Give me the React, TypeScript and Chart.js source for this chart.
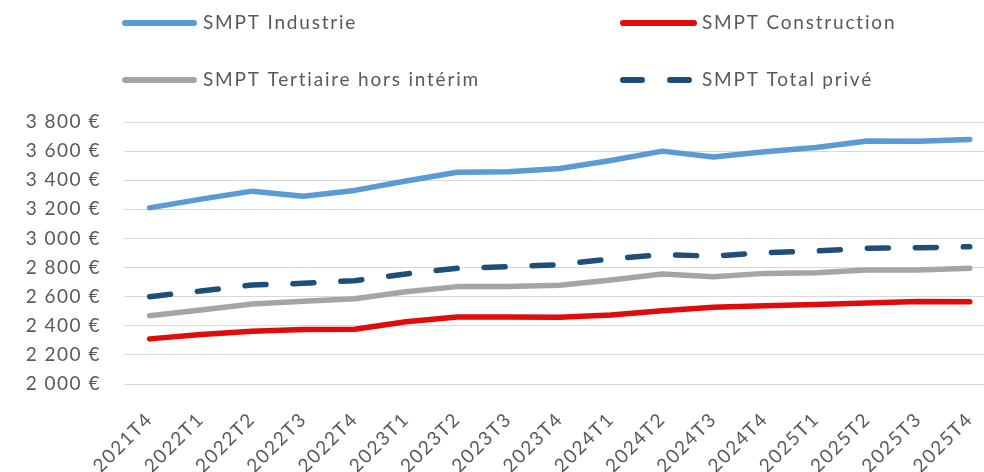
import React, { useEffect, useRef } from "react";
import { Chart, registerables } from "chart.js";

Chart.register(...registerables);

const categories = [
  "2021T4", "2022T1", "2022T2", "2022T3", "2022T4",
  "2023T1", "2023T2", "2023T3", "2023T4",
  "2024T1", "2024T2", "2024T3", "2024T4",
  "2025T1", "2025T2", "2025T3", "2025T4",
];

const industrie = [3210, 3270, 3325, 3290, 3330, 3395, 3455, 3458, 3480, 3535, 3600, 3560, 3595, 3625, 3670, 3668, 3680];
const construction = [2310, 2340, 2363, 2375, 2376, 2428, 2460, 2460, 2458, 2474, 2503, 2527, 2538, 2547, 2556, 2567, 2565];
const tertiaire = [2469, 2508, 2550, 2568, 2586, 2634, 2669, 2669, 2678, 2715, 2756, 2737, 2760, 2765, 2783, 2783, 2795];
const totalPrive = [2600, 2639, 2680, 2692, 2710, 2756, 2795, 2806, 2820, 2860, 2888, 2879, 2902, 2914, 2932, 2936, 2943];

const seriesNames = ["SMPT Industrie", "SMPT Construction", "SMPT Tertiaire hors intérim", "SMPT Total privé"];
const seriesColors = ["#5B9BD5", "#E00B0B", "#A5A5A5", "#1F4E79"];

const yMin = 2000;
const yMax = 3800;
const yStep = 200;

const formatEuro = (v: number) => {
  const s = String(Math.round(v));
  const withSpace = s.replace(/\B(?=(\d{3})+(?!\d))/g, " ");
  return withSpace + " €";
};

// legend layout: [lineStart, lineEnd, y, textX]
const legendPos = [
  [122, 197, 23, 203],
  [620, 697, 23, 702],
  [122, 197, 80, 203],
  [620, 697, 80, 702],
];

const spacingPlugin = {
  id: "letterSpacing",
  beforeDraw(chart: any) {
    try { (chart.ctx as any).letterSpacing = "1.5px"; } catch (e) {}
  },
};

const legendPlugin = {
  id: "customLegend",
  afterDraw(chart: any) {
    const ctx = chart.ctx;
    ctx.save();
    chart.data.datasets.forEach((ds: any, i: number) => {
      const [x1, x2, y, tx] = legendPos[i];
      ctx.beginPath();
      ctx.strokeStyle = ds.borderColor;
      ctx.lineWidth = 6;
      ctx.lineCap = "round";
      if (ds.borderDash && ds.borderDash.length) {
        ctx.setLineDash([19, 28]);
        ctx.moveTo(x1 + 3, y);
        ctx.lineTo(x2 - 6, y);
      } else {
        ctx.setLineDash([]);
        ctx.moveTo(x1 + 3, y);
        ctx.lineTo(x2 - 3, y);
      }
      ctx.stroke();
      ctx.setLineDash([]);
      ctx.fillStyle = "#595959";
      ctx.font = "19px Lato";
      try { (ctx as any).letterSpacing = "1.8px"; } catch (e) {}
      ctx.textBaseline = "middle";
      ctx.textAlign = "left";
      ctx.fillText(ds.label, tx, y);
    });
    ctx.restore();
  },
};

export default function App() {
  const canvasRef = useRef<HTMLCanvasElement | null>(null);

  useEffect(() => {
    if (!canvasRef.current) return;
    const datasets = [industrie, construction, tertiaire, totalPrive].map((d, i) => ({
      label: seriesNames[i],
      data: d,
      borderColor: seriesColors[i],
      backgroundColor: seriesColors[i],
      borderWidth: 5.5,
      borderCapStyle: "round" as const,
      borderJoinStyle: "round" as const,
      borderDash: i === 3 ? [21, 27] : [],
      pointRadius: 0,
      pointHoverRadius: 0,
      tension: 0,
      fill: false,
    }));
    const chart = new Chart(canvasRef.current, {
      type: "line",
      data: { labels: categories, datasets },
      options: {
        animation: false,
        responsive: true,
        maintainAspectRatio: false,
        layout: { padding: { top: 122, left: 0, right: 4, bottom: 0 } },
        plugins: {
          legend: { display: false },
          tooltip: { enabled: false },
        },
        scales: {
          x: {
            offset: true,
            grid: { display: false, drawTicks: false },
            border: { display: false },
            ticks: {
              color: "#595959",
              font: { family: "Lato", size: 19 },
              maxRotation: 45,
              minRotation: 45,
              autoSkip: false,
              padding: 24,
            },
            afterFit(scale: any) {
              scale.height = 88;
            },
          },
          y: {
            min: yMin,
            max: yMax,
            grid: { color: "#D9D9D9", lineWidth: 1, drawTicks: false },
            border: { display: false },
            ticks: {
              stepSize: yStep,
              color: "#595959",
              font: { family: "Lato", size: 19 },
              padding: 23,
              callback: (v: any) => formatEuro(Number(v)),
            },
            afterFit(scale: any) {
              scale.width = 124;
            },
          },
        },
      },
      plugins: [spacingPlugin, legendPlugin],
    });
    return () => chart.destroy();
  }, []);

  return (
    <div
      style={{
        position: "fixed",
        left: 0,
        top: 0,
        width: 984,
        height: 472,
        overflow: "hidden",
        background: "#ffffff",
      }}
    >
      <div style={{ position: "relative", width: 1010, height: 472 }}>
        <canvas ref={canvasRef} />
      </div>
    </div>
  );
}
